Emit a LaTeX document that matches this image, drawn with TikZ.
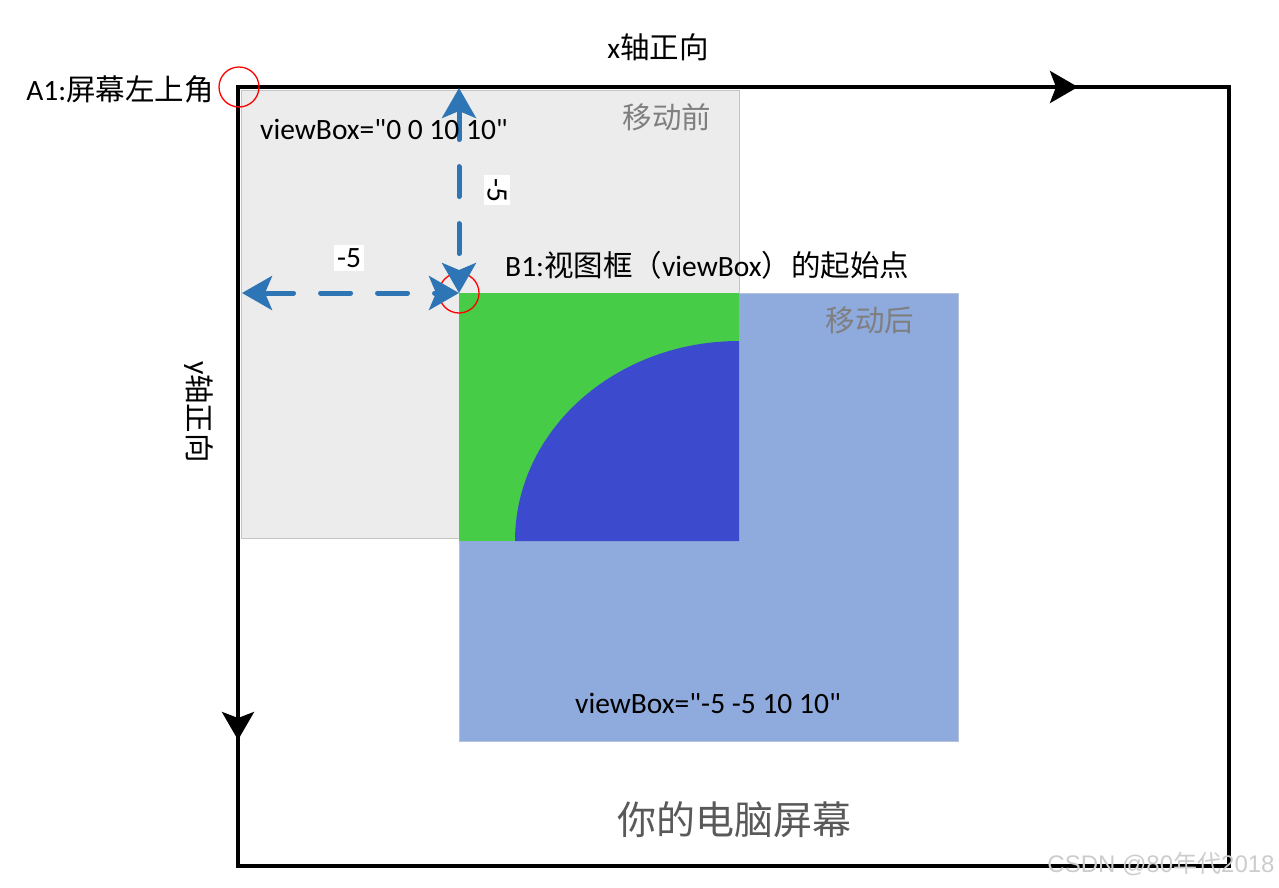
\documentclass[tikz,border=0pt]{standalone}
\usepackage{fontspec}
\setmainfont{Carlito}[Ligatures=TeXOff]
\newfontfamily\cjk{Noto Sans CJK SC}
\newfontfamily\markfont{Liberation Sans}[Ligatures=TeXOff]
\usetikzlibrary{arrows.meta}
\definecolor{grayfill}{HTML}{ECECEC}
\definecolor{grayedge}{HTML}{C4C4C4}
\definecolor{bluefill}{HTML}{8FAADC}
\definecolor{blueedge}{HTML}{B4C2DC}
\definecolor{greenfill}{HTML}{47CC47}
\definecolor{ellfill}{HTML}{3C4BCD}
\definecolor{arrowblue}{HTML}{2E75B6}
\definecolor{labgray}{HTML}{7F7F7F}
\definecolor{screengray}{HTML}{595959}
\tikzset{
  txt/.style={font=\fontsize{29.5}{34}\selectfont, inner sep=0pt},
  bigtxt/.style={font=\fontsize{39}{44}\selectfont, inner sep=0pt, text=screengray},
  marktxt/.style={font=\markfont\fontsize{24}{27}\selectfont, inner sep=0pt, text=gray!40},
  redring/.style={draw=red, line width=1.3pt, circle, minimum size=40pt, inner sep=0pt},
  bluearrow/.style={draw=arrowblue, line width=5pt, line cap=round,
     dash pattern=on 30pt off 27pt,
     {Stealth[length=30pt,width=34pt,inset=7pt]}-{Stealth[length=30pt,width=34pt,inset=7pt]}},
  blackhead/.style={line width=4pt, -{Stealth[length=28pt,width=32pt,inset=6pt]}},
}
\begin{document}
\begin{tikzpicture}[x=1pt,y=-1pt]
\useasboundingbox (0,0) rectangle (1279,887);
% boxes
\filldraw[fill=grayfill, draw=grayedge, line width=1pt] (241,90) rectangle (739,538);
\filldraw[fill=bluefill, draw=blueedge, line width=1pt] (459,293) rectangle (958,741);
\fill[greenfill] (459,293) rectangle (739,541);
\fill[ellfill] (739,541) -- (739,341) .. controls (615.3,341) and (515,430.5) .. (515,541) -- cycle;
% screen frame
\draw[line width=4pt] (238,87) rectangle (1229,866);
\coordinate (xa) at (1040,87);
\coordinate (xb) at (1078,87);
\coordinate (ya) at (238,700);
\coordinate (yb) at (238,740);
\draw[blackhead] (xa) -- (xb);
\draw[blackhead] (ya) -- (yb);
% points
\node[redring] (A) at (239,87) {};
\node[redring] (B) at (459,293) {};
\coordinate (topB) at (459,88);
\coordinate (leftB) at (242,293);
\draw[bluearrow] (topB) -- (B.center);
\draw[bluearrow] (leftB) -- (B.center);
% labels
\node[txt] (xlab) at (658,47) {x{\cjk 轴正向}};
\node[txt, anchor=east] (a1) at (214,89) {A1:{\cjk 屏幕左上角}};
\node[txt, anchor=west] (vb1) at (260,129) {viewBox="0 0 10 10"};
\node[txt, text=labgray] (before) at (667,117) {\cjk 移动前};
\node[txt, text=labgray] (after) at (870,320) {\cjk 移动后};
\node[txt, anchor=west] (b1) at (505,265) {B1:{\cjk 视图框（}viewBox{\cjk ）的起始点}};
\node[txt, fill=white, inner sep=3pt] (mh) at (349,258) {-5};
\node[txt, fill=white, inner sep=3pt, rotate=-90] (mv) at (497,190) {-5};
\node[txt, rotate=-90] (ylab) at (199,412) {y{\cjk 轴正向}};
\node[txt] (vb2) at (708,703) {viewBox="-5 -5 10 10"};
\node[bigtxt] (screen) at (734,820) {\cjk 你的电脑屏幕};
\node[marktxt] (mark) at (1161,864) {CSDN @80{\cjk 年代}2018};
\end{tikzpicture}
\end{document}
